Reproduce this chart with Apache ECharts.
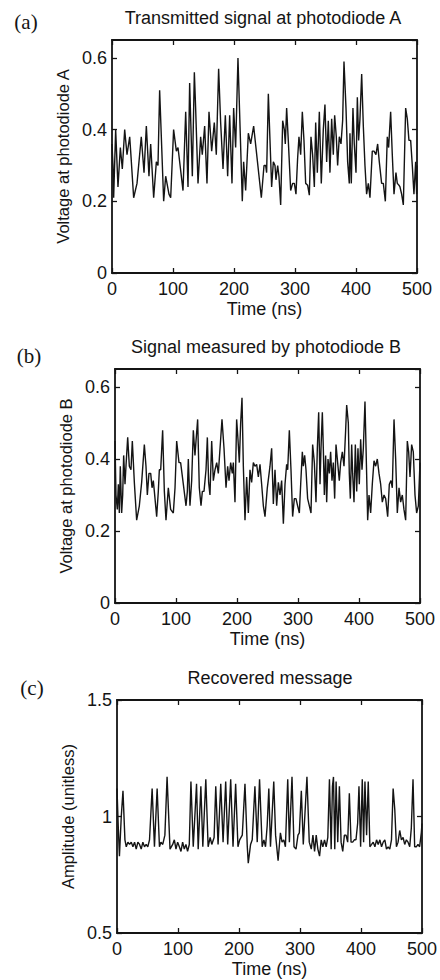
<!DOCTYPE html>
<html>
<head>
<meta charset="utf-8">
<style>
html,body{margin:0;padding:0;background:#fff;}
#chart{width:440px;height:980px;}
</style>
<script src="https://cdn.jsdelivr.net/npm/echarts@6.0.0/dist/echarts.min.js"></script>
</head>
<body>
<div id="chart"></div>
<script>
// ---------- data ----------
const xTicks = [0, 100, 200, 300, 400, 500];
const yTicksAB = [0, 0.2, 0.4, 0.6];
const yTicksC = [0.5, 1, 1.5];

// (a) Transmitted signal at photodiode A
const timeA = [0,1.6,2.7,6,9.8,13.7,16.9,20.8,24.6,29,30.6,35.5,41,48,52.5,56.3,60.6,63.4,68.3,72.7,75.4,78.1,84.7,88,93.4,96.2,101,105.5,108.2,116.4,120.8,124.6,127.3,131.7,135,137.1,141,145.3,148,151.9,155.7,159,163.4,167.7,171,174.8,178.1,182,185.8,189.6,192.9,196.7,199.4,202.7,206.5,213.6,215.8,219.1,223.5,227.3,232.2,236.6,244.8,249.2,251.9,253.5,256.3,259,261.7,264.5,267.2,268.8,271.6,273.7,276.5,279.8,282.5,284.1,286.3,289,292.9,296.1,298.9,301.6,304.3,306.5,309.3,312,314.7,317.5,320.7,323.5,326.2,328.9,331.7,333.9,336.6,339.9,343.1,346.4,349.1,351.9,354.6,357.3,360.1,362.8,365,367.7,369.9,372.6,375.4,378.1,380.3,383.6,386.3,389,390.1,392.3,395,397.2,400,402.2,404.3,406.5,409.3,412,414.7,417.4,420.2,422.9,426.7,429.5,432.7,435.5,438.2,442,444.8,448.1,451.3,453.5,456.8,459.5,462.3,465.5,467.7,470.4,472.1,474.8,477.6,481.4,484.1,486.8,489.6,492.3,495,497.8,499.4,500];
const voltA = [0.36,0.30,0.21,0.40,0.24,0.35,0.29,0.40,0.33,0.38,0.34,0.21,0.25,0.38,0.28,0.41,0.27,0.36,0.21,0.31,0.30,0.51,0.20,0.27,0.22,0.21,0.40,0.34,0.35,0.23,0.45,0.24,0.53,0.27,0.56,0.46,0.25,0.38,0.33,0.41,0.25,0.45,0.34,0.42,0.33,0.57,0.42,0.29,0.44,0.27,0.44,0.25,0.46,0.35,0.60,0.20,0.31,0.23,0.39,0.36,0.41,0.34,0.21,0.30,0.30,0.28,0.50,0.37,0.24,0.31,0.30,0.26,0.30,0.27,0.19,0.425,0.40,0.36,0.46,0.37,0.23,0.25,0.25,0.22,0.32,0.38,0.33,0.45,0.37,0.25,0.245,0.217,0.38,0.33,0.24,0.42,0.28,0.45,0.25,0.40,0.47,0.31,0.425,0.28,0.43,0.33,0.44,0.38,0.30,0.38,0.36,0.425,0.59,0.46,0.31,0.25,0.39,0.25,0.46,0.36,0.28,0.49,0.37,0.43,0.555,0.41,0.30,0.22,0.25,0.21,0.34,0.34,0.33,0.36,0.31,0.25,0.25,0.20,0.38,0.35,0.45,0.33,0.22,0.28,0.25,0.245,0.24,0.22,0.19,0.46,0.43,0.37,0.37,0.30,0.22,0.31,0.22,0.30];

// (b) Signal measured by photodiode B
const timeB = [0,1.6,3.8,5.5,7.1,8.7,10.9,12.6,14.2,16.4,18,20.8,23.5,26.2,28.4,31.7,35.5,39.9,43.7,48.1,50.8,53,55.7,58.5,60.7,62.8,64.5,68.3,71,72.7,74.9,78.1,80.9,83.6,87.4,91.2,95.6,98.4,101.1,104.9,107.6,112,116.4,118.6,120.2,122.9,125.7,128.4,131.1,132.8,135.5,138.2,141,143.2,145.9,149.2,151.4,153.5,155.7,158.5,161.2,163.9,166.7,169.4,173.2,175.4,178.7,182,184.7,186.9,189.6,192.3,194,196.7,199.4,201.6,203.8,206,208.2,210.4,213.1,215.8,218.6,221.3,224,226.8,229.5,232.2,235,237.7,240.4,243.2,245.9,249.7,254.1,256.8,259.6,262.3,265,267.8,270.5,273.2,276,278.7,281.4,283.1,285.8,288.5,291.2,294,296.7,299.4,302.2,304.4,307.1,308.7,310.9,313.1,315.8,318.6,321.3,324,326.8,329.5,331.7,333.9,336.1,337.7,339.9,341.5,343.2,345.3,347,349.2,351.4,353.5,355.7,357.9,360.1,362.3,365,367.7,369.9,372.7,375.4,378.1,379.8,382.5,384.1,385.8,388,389.6,391.8,394,396.2,398.3,400.5,402.7,404.9,407.1,409.8,412.5,414.2,416.4,419.1,421.8,424.6,427.3,430,432.8,435.5,438.2,441,443.7,447,449.7,452.4,454.6,457.4,460.1,462.8,465.6,468.3,471,473.7,476.5,479.2,481.4,483.6,486.3,489,491.8,494.5,497.3,500];
const voltB = [0.45,0.30,0.26,0.33,0.25,0.38,0.25,0.30,0.41,0.33,0.38,0.46,0.38,0.37,0.45,0.335,0.23,0.27,0.335,0.44,0.38,0.30,0.36,0.36,0.32,0.34,0.31,0.24,0.31,0.37,0.37,0.48,0.31,0.23,0.32,0.26,0.25,0.32,0.45,0.39,0.39,0.33,0.27,0.31,0.40,0.27,0.34,0.48,0.41,0.45,0.51,0.32,0.27,0.31,0.31,0.37,0.46,0.335,0.30,0.45,0.34,0.37,0.39,0.36,0.455,0.51,0.43,0.32,0.38,0.34,0.39,0.36,0.39,0.28,0.51,0.455,0.39,0.50,0.57,0.38,0.23,0.35,0.25,0.37,0.335,0.39,0.38,0.385,0.35,0.385,0.33,0.27,0.24,0.32,0.38,0.43,0.275,0.37,0.27,0.335,0.30,0.34,0.22,0.33,0.385,0.37,0.48,0.37,0.24,0.29,0.29,0.27,0.25,0.33,0.42,0.38,0.41,0.37,0.29,0.27,0.25,0.44,0.39,0.28,0.43,0.53,0.33,0.43,0.53,0.43,0.30,0.41,0.28,0.40,0.36,0.42,0.34,0.39,0.29,0.44,0.39,0.34,0.39,0.42,0.38,0.48,0.55,0.50,0.36,0.29,0.44,0.36,0.28,0.44,0.31,0.43,0.33,0.455,0.37,0.43,0.56,0.36,0.23,0.30,0.25,0.33,0.395,0.38,0.40,0.36,0.33,0.28,0.30,0.29,0.24,0.33,0.34,0.32,0.51,0.40,0.25,0.32,0.28,0.30,0.26,0.23,0.45,0.42,0.35,0.44,0.42,0.30,0.25,0.27,0.39];

// (c) Recovered message
const timeC = [0,2,4,7,9.8,13,15.2,17.9,20.6,23.4,26.1,28.8,31.5,34.2,37,39.7,42.4,45.1,47.8,50.5,53.3,57.6,61.4,65.8,69.6,72,75,78.5,82.1,86.9,91.3,94,96.7,99.4,102.2,104.9,107.6,110.3,113,115.7,118.5,121.2,125,130.4,133.1,137.5,140.7,145.6,149.4,152.7,155.4,159.2,161.9,165.7,170.1,173.9,178.2,181.5,186.4,190.2,194.5,198.3,201.1,205.4,209.8,213.6,215.2,219,221.7,226.1,229.9,233.7,238,240.8,243.5,246.2,248.9,251.6,257,260,264.1,267.9,270.6,273.4,276.1,279.9,282.6,286.9,290.2,293.5,296.7,298.9,302.2,305.4,311.4,315.2,318.5,321.2,323.9,326.6,329.3,332.1,334.8,337.5,340.2,342.9,345.6,348.3,351.1,353.2,354.9,357,359.2,361.9,364.6,367.4,370.1,372.8,375.5,378.2,380.9,383.7,386.4,389.1,391.8,394.5,396.7,399.4,402.1,404.3,406.5,409.2,411.9,414.6,417.4,420.1,422.8,425.5,428.2,431,433.7,436.4,439.1,441.8,444.5,447.2,450,452.7,455.4,458.1,460.8,463.5,466.3,469,471.7,474.4,477.1,479.9,482.5,485.3,488,490.7,493.4,496.1,498.9,500];
const ampC = [1.12,0.96,0.83,1.0,1.11,0.90,0.87,0.89,0.88,0.89,0.87,0.89,0.86,0.89,0.88,0.86,0.89,0.87,0.88,0.87,0.90,1.12,0.87,1.12,0.87,0.89,0.88,0.92,1.17,0.86,0.88,0.90,0.86,0.89,0.87,0.85,0.89,0.86,0.88,0.85,0.88,1.15,0.87,1.14,0.86,1.13,0.87,1.16,0.87,0.91,0.88,0.91,1.13,0.88,1.14,0.89,1.15,0.88,1.16,0.87,1.14,0.87,0.90,0.92,1.14,0.87,0.80,0.88,0.90,1.13,0.89,1.16,0.87,0.90,0.87,0.96,1.12,0.87,1.15,0.92,0.81,0.93,0.89,0.90,0.87,1.16,0.89,1.17,0.87,0.86,0.92,0.93,1.11,0.88,1.17,0.89,0.86,0.92,0.85,0.92,0.86,0.83,0.90,0.87,0.90,0.87,0.91,1.16,0.86,1.13,1.17,0.86,1.15,0.89,1.13,0.89,0.85,0.92,0.92,0.89,1.10,0.89,0.89,0.90,0.90,0.97,1.13,0.87,1.16,0.89,1.15,0.92,1.15,0.87,0.88,0.89,0.87,0.90,0.88,0.90,0.87,0.89,0.90,0.86,0.87,0.86,0.90,1.12,1.03,0.87,0.89,0.94,0.90,0.91,0.88,0.90,0.89,0.87,0.95,1.16,0.87,0.87,0.88,0.87,0.93,0.97];

const panelTitles = ['Transmitted signal at photodiode A', 'Signal measured by photodiode B', 'Recovered message'];
const panelTags = ['(a)', '(b)', '(c)'];
const yNames = ['Voltage at photodiode A', 'Voltage at photodiode B', 'Amplitude (unitless)'];

// ---------- chart ----------
const zip = (xs, ys) => xs.map((x, i) => [x, ys[i]]);
const INK = '#141414';
const SANS = "'Liberation Sans', Arial, Helvetica, sans-serif";
const SERIF = "'Liberation Serif', 'Times New Roman', serif";

const grids = [
  {left: 112, top: 40, width: 305, height: 233},
  {left: 115, top: 369, width: 305, height: 234},
  {left: 117, top: 700, width: 307, height: 233}
];
const yRanges = [
  {min: 0, max: 0.65, interval: 0.2},
  {min: 0, max: 0.65, interval: 0.2},
  {min: 0.5, max: 1.5, interval: 0.5}
];

const axisLine = {show: true, onZero: false, lineStyle: {color: INK, width: 1.8}};
const axisTick = {show: true, inside: true, length: 5, lineStyle: {color: INK, width: 1.3}};
const labelStyle = {color: INK, fontFamily: SANS, fontSize: 18};

const xAxis = [], yAxis = [];
grids.forEach((g, i) => {
  xAxis.push({
    type: 'value', gridIndex: i, position: 'bottom',
    min: xTicks[0], max: xTicks[xTicks.length - 1], interval: 100,
    axisLine, axisTick, splitLine: {show: false},
    axisLabel: Object.assign({margin: 7}, labelStyle),
    name: 'Time (ns)', nameLocation: 'middle', nameGap: 27,
    nameTextStyle: {color: INK, fontFamily: SANS, fontSize: 18}
  });
  xAxis.push({
    type: 'value', gridIndex: i, position: 'top',
    min: xTicks[0], max: xTicks[xTicks.length - 1], interval: 100,
    axisLine, axisTick, splitLine: {show: false}, axisLabel: {show: false}
  });
  const r = yRanges[i];
  yAxis.push({
    type: 'value', gridIndex: i, position: 'left',
    min: r.min, max: r.max, interval: r.interval,
    axisLine, axisTick, splitLine: {show: false},
    axisLabel: Object.assign({margin: 5, showMaxLabel: i === 2}, labelStyle),
    name: yNames[i], nameLocation: 'middle', nameGap: 35, nameRotate: 90,
    nameTextStyle: {color: INK, fontFamily: SANS, fontSize: 16.5}
  });
  yAxis.push({
    type: 'value', gridIndex: i, position: 'right',
    min: r.min, max: r.max, interval: r.interval,
    axisLine, axisTick, splitLine: {show: false}, axisLabel: {show: false}
  });
});

const seriesData = [zip(timeA, voltA), zip(timeB, voltB), zip(timeC, ampC)];
const series = seriesData.map((d, i) => ({
  type: 'line', xAxisIndex: i * 2, yAxisIndex: i * 2, data: d,
  showSymbol: false, symbol: 'none', smooth: false, animation: false,
  lineStyle: {color: INK, width: 1.4}
}));

const titlePos = [[263, 18], [266, 347], [270, 678]];
const tagPos = [[26, 22], [29, 356], [32, 688]];
const graphic = [];
panelTitles.forEach((t, i) => {
  graphic.push({type: 'text', x: titlePos[i][0], y: titlePos[i][1], silent: true,
    style: {text: t, fill: INK, fontFamily: SANS, fontSize: 18, align: 'center', verticalAlign: 'middle',
      textAlign: 'center', textVerticalAlign: 'middle'}});
  graphic.push({type: 'text', x: tagPos[i][0], y: tagPos[i][1], silent: true,
    style: {text: panelTags[i], fill: INK, fontFamily: SERIF, fontSize: 21, align: 'center', verticalAlign: 'middle',
      textAlign: 'center', textVerticalAlign: 'middle'}});
});

const chart = echarts.init(document.getElementById('chart'), null, {renderer: 'svg'});
chart.setOption({
  backgroundColor: '#ffffff',
  animation: false,
  grid: grids.map(g => Object.assign({show: false, containLabel: false}, g)),
  xAxis, yAxis, series, graphic
});
</script>
</body>
</html>
